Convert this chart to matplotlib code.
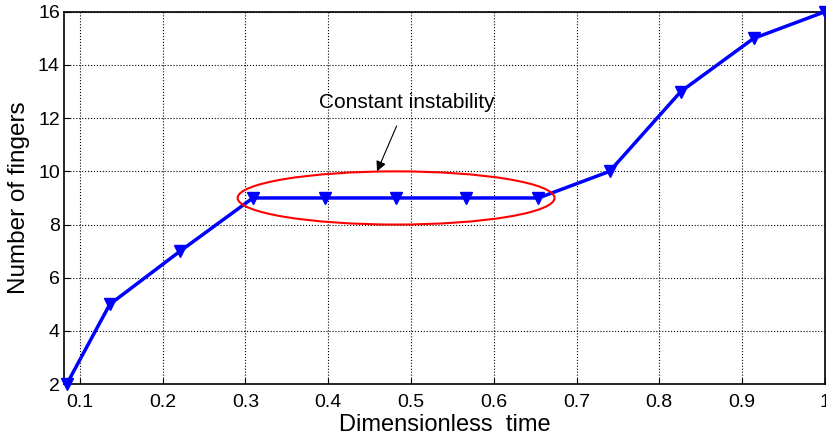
import matplotlib.pyplot as plt
from matplotlib.patches import Ellipse

# data
time = [0.084, 0.136, 0.221, 0.309, 0.396, 0.482, 0.567, 0.654, 0.740, 0.826, 0.914, 1.0]
fingers = [2, 5, 7, 9, 9, 9, 9, 9, 10, 13, 15, 16]
xticks = [0.1, 0.2, 0.3, 0.4, 0.5, 0.6, 0.7, 0.8, 0.9, 1.0]
xticklabels = ['0.1', '0.2', '0.3', '0.4', '0.5', '0.6', '0.7', '0.8', '0.9', '1']
yticks = [2, 4, 6, 8, 10, 12, 14, 16]

plt.rcParams['font.family'] = ['Liberation Sans', 'DejaVu Sans']

fig = plt.figure(figsize=(8.26, 4.37), dpi=100)
ax = fig.add_axes([0.0775, 0.121, 0.921, 0.852])

ax.plot(time, fingers, color='blue', lw=2.5, marker='v', ms=8, clip_on=False, zorder=3)

# ellipse round the plateau
ax.add_patch(Ellipse((0.482, 9.0), 0.383, 2.0, fill=False, ec='red', lw=1.5, zorder=4))
ax.annotate('Constant instability', xy=(0.459, 10.0), xytext=(0.495, 12.6),
            ha='center', va='center', fontsize=15,
            arrowprops=dict(arrowstyle='-|>', color='black', lw=0.8, mutation_scale=15,
                            shrinkA=9, shrinkB=0))

ax.set_xlim(0.0807, 1.0)
ax.set_ylim(2, 16)
ax.set_xticks(xticks)
ax.set_xticklabels(xticklabels)
ax.set_yticks(yticks)
ax.tick_params(direction='in', labelsize=14, length=4, pad=3)
ax.tick_params(axis='x', pad=7)
ax.grid(True, color='black', ls=':', lw=0.8)
for s in ax.spines.values():
    s.set_linewidth(1.2)

ax.set_xlabel('Dimensionless  time', fontsize=17, labelpad=2)
ax.set_ylabel('Number of fingers', fontsize=17.5, labelpad=6)

fig.savefig('out.png', dpi=100)
